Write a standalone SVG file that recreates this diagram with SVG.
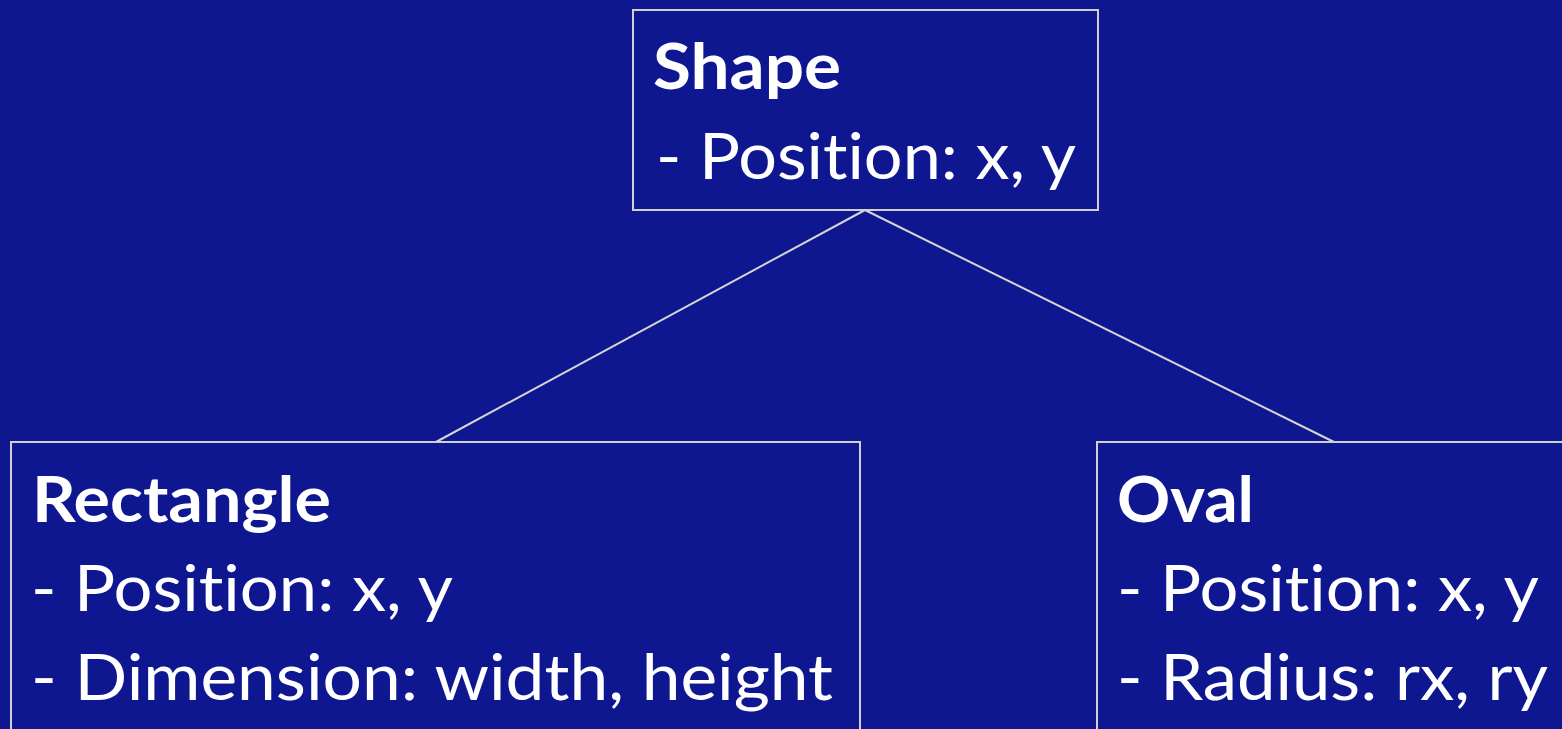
<svg xmlns="http://www.w3.org/2000/svg" width="1562" height="729" viewBox="0 0 1562 729">
<style>
.box{fill:#0E178F;stroke:#D0D0D0;stroke-width:2}
.conn{stroke:#D6D6D6;stroke-width:2;fill:none}
text{font-family:Lato,"Open Sans","Liberation Sans",sans-serif;font-size:64px;fill:#FFFFFF;font-variant-ligatures:none;font-feature-settings:"liga" 0}
.title{font-weight:bold}
</style>
<rect width="1562" height="729" fill="#0E178F"/>
<g id="connectors">
<line class="conn" x1="865" y1="210" x2="436" y2="442"/>
<line class="conn" x1="865" y1="210" x2="1334" y2="442"/>
</g>
<g id="node-shape">
<rect class="box" x="633" y="10" width="465" height="200"/>
<text class="title" x="653" y="89" textLength="188" lengthAdjust="spacingAndGlyphs">Shape</text>
<text x="656" y="179" textLength="420" lengthAdjust="spacingAndGlyphs">- Position: x, y</text>
</g>
<g id="node-rectangle">
<rect class="box" x="11" y="442" width="849" height="300"/>
<text class="title" x="32" y="522" textLength="299" lengthAdjust="spacingAndGlyphs">Rectangle</text>
<text x="31" y="611" textLength="422" lengthAdjust="spacingAndGlyphs">- Position: x, y</text>
<text x="31" y="700" textLength="802" lengthAdjust="spacingAndGlyphs">- Dimension: width, height</text>
</g>
<g id="node-oval">
<rect class="box" x="1097" y="442" width="500" height="300"/>
<text class="title" x="1117" y="522" textLength="137" lengthAdjust="spacingAndGlyphs">Oval</text>
<text x="1117" y="611" textLength="422" lengthAdjust="spacingAndGlyphs">- Position: x, y</text>
<text x="1117" y="700" textLength="431" lengthAdjust="spacingAndGlyphs">- Radius: rx, ry</text>
</g>
</svg>
